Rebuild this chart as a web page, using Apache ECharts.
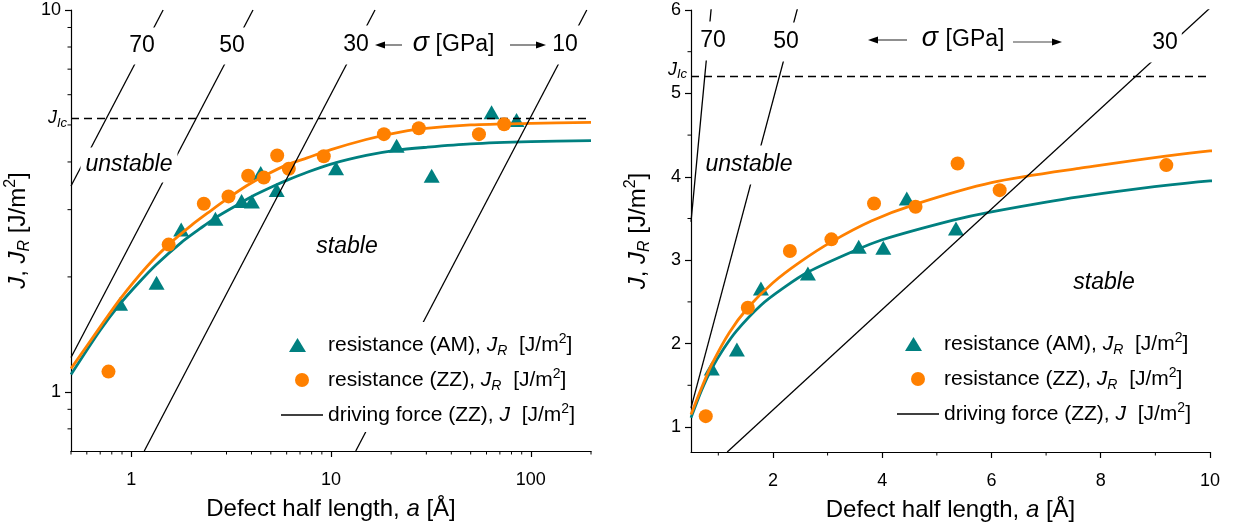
<!DOCTYPE html>
<html>
<head>
<meta charset="utf-8">
<script src="https://cdn.jsdelivr.net/npm/echarts@6/dist/echarts.min.js"></script>
<style>
  html, body { margin: 0; padding: 0; background: #fff; }
  #chart { width: 1234px; height: 527px; }
</style>
</head>
<body>
<div id="chart"></div>
<script>
// Crack resistance J_R of zigzag (ZZ) and armchair (AM) defects in graphene
// versus defect half length a, compared with the driving force J at fixed stress.

// Measured resistance, zigzag (ZZ)
const zzA = [0.77, 1.54, 2.31, 3.07, 3.85, 4.61, 5.38, 6.15, 9.2, 18.4, 27.5, 55, 73.5];
const zzJ = [1.13, 2.43, 3.11, 3.25, 3.68, 3.64, 4.16, 3.84, 4.14, 4.73, 4.90, 4.73, 5.02];

// Measured resistance, armchair (AM)
const amA = [0.88, 1.34, 1.78, 2.64, 3.57, 4.02, 4.45, 5.35, 10.6, 21.3, 31.9, 63.6, 84.8];
const amJ = [1.70, 1.93, 2.66, 2.84, 3.16, 3.15, 3.74, 3.38, 3.85, 4.41, 3.68, 5.40, 5.15];

// Fitted resistance curves
const zzFitA = [0.5, 0.7, 0.88, 1.2, 1.54, 2.0, 2.5, 3.07, 3.8, 4.6, 6.0, 7.6, 10, 15, 20, 28, 50, 100, 200];
const zzFitJ = [1.15, 1.48, 1.75, 2.13, 2.43, 2.73, 2.98, 3.22, 3.47, 3.67, 3.93, 4.10, 4.31, 4.58, 4.74, 4.88, 5.00, 5.05, 5.08];
const amFitA = [0.5, 0.7, 0.88, 1.1, 1.33, 1.78, 2.2, 2.65, 3.5, 4.0, 5.3, 6.0, 7.6, 10, 15, 21, 30, 50, 100, 200];
const amFitJ = [1.11, 1.45, 1.70, 1.94, 2.15, 2.46, 2.67, 2.86, 3.115, 3.245, 3.48, 3.58, 3.76, 3.95, 4.16, 4.29, 4.37, 4.46, 4.52, 4.55];

// Driving force J at constant stress sigma [GPa]: end points of each straight line
const drive70A = [0.5, 1.445];  const drive70J = [3.46, 10];
const drive50A = [0.5, 4.07];   const drive50J = [1.23, 10];
const drive30A = [1.163, 16.6]; const drive30J = [0.7, 10];
const drive10A = [13.3, 190.5]; const drive10J = [0.7, 10];

// Critical value J_Ic
const jIc = 5.2;

// Axis ticks
const leftXTicks = [1, 10, 100];
const leftYTicks = [1, 10];
const rightXTicks = [2, 4, 6, 8, 10];
const rightYTicks = [1, 2, 3, 4, 5, 6];
const leftXMinor = [0.5, 0.6, 0.7, 0.8, 0.9, 2, 3, 4, 5, 6, 7, 8, 9, 20, 30, 40, 50, 60, 70, 80, 90, 200];
const leftYMinor = [0.8, 0.9, 2, 3, 4, 5, 6, 7, 8, 9];
const rightXMinor = [1, 3, 5, 7, 9];
const rightYMinor = [1.5, 2.5, 3.5, 4.5, 5.5];

const FONT = '"Liberation Sans", Arial, Helvetica, sans-serif';
const TEAL = '#008080';
const ORANGE = '#ff8000';

const nameAM = 'resistance (AM), JR [J/m2]';
const nameZZ = 'resistance (ZZ), JR [J/m2]';
const nameDF = 'driving force (ZZ), J [J/m2]';
const legendRich = {};
legendRich[nameAM] = 'resistance (AM), {i|J}{sub|R}  [J/m{sup|2}]';
legendRich[nameZZ] = 'resistance (ZZ), {i|J}{sub|R}  [J/m{sup|2}]';
legendRich[nameDF] = 'driving force (ZZ), {i|J}  [J/m{sup|2}]';

// Legend icons drawn inside a 42 x 14 box
const ICON_TRIANGLE = 'path://M0 0 M42 14 M8 14 L16.5 0 L25 14 Z';
const ICON_LINE = 'path://M0 0 H42 V1.3 H0 Z';

function pairs(xs, ys) { return xs.map((x, i) => [x, ys[i]]); }

const driveSets = [[drive70A, drive70J], [drive50A, drive50J], [drive30A, drive30J], [drive10A, drive10J]];

const titleRich = {
  i: { fontStyle: 'italic', fontSize: 24, fontFamily: FONT, color: '#000', lineHeight: 30 },
  sub: { fontStyle: 'italic', fontSize: 16, fontFamily: FONT, color: '#000', verticalAlign: 'bottom', lineHeight: 15 },
  sup: { fontSize: 16, fontFamily: FONT, color: '#000', verticalAlign: 'top', lineHeight: 15 }
};

function axisBase(type, min, max, ticks) {
  const ax = {
    type: type, min: min, max: max,
    axisLine: { show: true, onZero: false, lineStyle: { color: '#000', width: 1.2 } },
    axisTick: { show: true, length: 6, customValues: ticks, lineStyle: { color: '#000', width: 1.2 } },
    axisLabel: { color: '#000', fontSize: 18, fontFamily: FONT, customValues: ticks },
    splitLine: { show: false },
    minorTick: { show: false },
    nameLocation: 'middle',
    nameTextStyle: { color: '#000', fontSize: 24, fontFamily: FONT, lineHeight: 30, rich: titleRich }
  };
  if (type === 'log') ax.logBase = 10;
  return ax;
}

function xAxisFor(idx, type, min, max, ticks) {
  const ax = axisBase(type, min, max, ticks);
  ax.gridIndex = idx;
  ax.axisLabel.margin = 20;
  ax.name = 'Defect half length, {i|a} [Å]';
  ax.nameGap = 41;
  return ax;
}

function yAxisFor(idx, type, min, max, ticks) {
  const ax = axisBase(type, min, max, ticks);
  ax.gridIndex = idx;
  ax.axisLabel.margin = 10;
  ax.name = '{i|J}, {i|J}{sub|R} [J/m{sup|2}]';
  ax.nameGap = 38;
  return ax;
}

function minorTicks(idx, axis, values) {
  return {
    type: 'custom', xAxisIndex: idx, yAxisIndex: idx, silent: true, clip: false, z: 1,
    data: values.map(v => axis === 'x' ? [v, 1] : [1, v]),
    renderItem: function (params, api) {
      const cs = params.coordSys;
      const p = api.coord([api.value(0), api.value(1)]);
      if (axis === 'x') {
        const y0 = cs.y + cs.height;
        return { type: 'line', shape: { x1: p[0], y1: y0, x2: p[0], y2: y0 + 3.5 },
                 style: { stroke: '#000', lineWidth: 1 } };
      }
      return { type: 'line', shape: { x1: cs.x, y1: p[1], x2: cs.x - 3.5, y2: p[1] },
               style: { stroke: '#000', lineWidth: 1 } };
    }
  };
}

function panelSeries(idx) {
  const list = [];
  list.push({
    name: 'AM fit', type: 'line', xAxisIndex: idx, yAxisIndex: idx, z: 2,
    data: pairs(amFitA, amFitJ), smooth: 0.3, showSymbol: false, symbol: 'none',
    lineStyle: { color: TEAL, width: 2.8 }
  });
  list.push({
    name: nameAM, type: 'scatter', xAxisIndex: idx, yAxisIndex: idx, z: 3,
    data: pairs(amA, amJ), symbol: 'triangle', symbolSize: [16, 14],
    itemStyle: { color: TEAL, opacity: 1 }
  });
  list.push({
    name: 'ZZ fit', type: 'line', xAxisIndex: idx, yAxisIndex: idx, z: 4,
    data: pairs(zzFitA, zzFitJ), smooth: 0.3, showSymbol: false, symbol: 'none',
    lineStyle: { color: ORANGE, width: 2.8 }
  });
  list.push({
    name: nameZZ, type: 'scatter', xAxisIndex: idx, yAxisIndex: idx, z: 5,
    data: pairs(zzA, zzJ), symbol: 'circle', symbolSize: 14,
    itemStyle: { color: ORANGE, opacity: 1 }
  });
  driveSets.forEach((set, k) => {
    const s = {
      name: nameDF, type: 'line', xAxisIndex: idx, yAxisIndex: idx, z: 6,
      data: pairs(set[0], set[1]), showSymbol: false, symbol: 'none', clip: true,
      lineStyle: { color: '#000', width: 1.3 }, itemStyle: { color: '#000' }
    };
    if (k === 0) {
      s.markLine = {
        silent: true, symbol: 'none', animation: false,
        lineStyle: { color: '#000', width: 1.3, type: [8, 5] },
        label: {
          show: true, position: 'start', distance: 4,
          offset: idx === 1 ? [0, -7] : [0, 0],
          formatter: '{j|J}{s|Ic}',
          rich: {
            j: { fontStyle: 'italic', fontSize: 18, fontFamily: FONT, color: '#000', lineHeight: 22 },
            s: { fontStyle: 'italic', fontSize: 13, fontFamily: FONT, color: '#000', verticalAlign: 'bottom', lineHeight: 12 }
          }
        },
        data: [{ yAxis: jIc }]
      };
    }
    list.push(s);
  });
  return list;
}

function legendFor(left, top) {
  return {
    orient: 'vertical', left: left, top: top, z: 10,
    backgroundColor: '#fff', padding: [10, 6, 4, 5],
    itemWidth: 42, itemHeight: 14, itemGap: 9, selectedMode: false,
    data: [
      { name: nameAM, icon: ICON_TRIANGLE },
      { name: nameZZ, icon: 'circle' },
      { name: nameDF, icon: ICON_LINE }
    ],
    formatter: name => legendRich[name],
    textStyle: {
      color: '#000', fontSize: 21, fontFamily: FONT, lineHeight: 26,
      rich: {
        i: { fontStyle: 'italic', fontSize: 21, fontFamily: FONT, color: '#000', lineHeight: 26 },
        sub: { fontStyle: 'italic', fontSize: 14, fontFamily: FONT, color: '#000', verticalAlign: 'bottom', lineHeight: 13 },
        sup: { fontSize: 14, fontFamily: FONT, color: '#000', verticalAlign: 'top', lineHeight: 13 }
      }
    }
  };
}

function label(text, x, y, font, pad) {
  return {
    type: 'text', x: x, y: y, z: 20, silent: true,
    style: {
      text: text, font: font, fill: '#000', align: 'center', verticalAlign: 'middle',
      backgroundColor: '#fff', padding: pad || [5, 3]
    }
  };
}

function arrow(x1, x2, y) {
  // arrow head sits at x1
  const dir = x2 > x1 ? 1 : -1;
  return [
    { type: 'line', z: 20, silent: true, shape: { x1: x1 + dir * 8, y1: y, x2: x2, y2: y },
      style: { stroke: '#444', lineWidth: 1.2 } },
    { type: 'polygon', z: 20, silent: true,
      shape: { points: [[x1, y], [x1 + dir * 10, y - 3.5], [x1 + dir * 10, y + 3.5]] },
      style: { fill: '#000' } }
  ];
}

const NUM = '23px ' + FONT;
const ITAL = 'italic 23px ' + FONT;
const SIGMA = 'italic 27px ' + FONT;

const graphics = [
  // left panel stress labels
  label('70', 142, 46, NUM, [7, 3]),
  label('50', 232, 46, NUM, [7, 3]),
  label('30', 356, 45, NUM, [8, 3]),
  label('10', 565, 45, NUM, [8, 3]),
  label('σ', 421, 43, SIGMA, [2, 1]),
  label('[GPa]', 465, 45, NUM, [2, 1]),
  ...arrow(375, 402, 45),
  ...arrow(546, 510, 45),
  label('unstable', 129, 165, ITAL, [6, 5]),
  label('stable', 347, 247, ITAL, [2, 2]),
  // right panel stress labels
  label('70', 713, 41, NUM, [8, 2]),
  label('50', 786, 42, NUM, [8, 2]),
  label('30', 1165, 43, NUM, [8, 4]),
  label('σ', 930, 38, SIGMA, [2, 1]),
  label('[GPa]', 975, 40, NUM, [2, 1]),
  ...arrow(868, 907, 40),
  ...arrow(1062, 1013, 42),
  label('unstable', 749, 165, ITAL, [8, 5]),
  label('stable', 1104, 283, ITAL, [2, 2])
];

const chart = echarts.init(document.getElementById('chart'), null, { renderer: 'canvas' });
chart.setOption({
  animation: false,
  backgroundColor: '#fff',
  textStyle: { fontFamily: FONT },
  grid: [
    { left: 71, top: 10, width: 520, height: 441, containLabel: false, outerBoundsMode: 'none' },
    { left: 691, top: 10, width: 519, height: 442, containLabel: false, outerBoundsMode: 'none' }
  ],
  xAxis: [
    xAxisFor(0, 'log', 0.5, 200, leftXTicks),
    xAxisFor(1, 'value', 0.5, 10, rightXTicks)
  ],
  yAxis: [
    yAxisFor(0, 'log', 0.7, 10, leftYTicks),
    yAxisFor(1, 'value', 0.7, 6, rightYTicks)
  ],
  legend: [legendFor(276, 322), legendFor(892, 321)],
  graphic: { elements: graphics },
  series: [].concat(
    panelSeries(0), panelSeries(1),
    minorTicks(0, 'x', leftXMinor), minorTicks(0, 'y', leftYMinor),
    minorTicks(1, 'x', rightXMinor), minorTicks(1, 'y', rightYMinor)
  )
});
</script>
</body>
</html>
